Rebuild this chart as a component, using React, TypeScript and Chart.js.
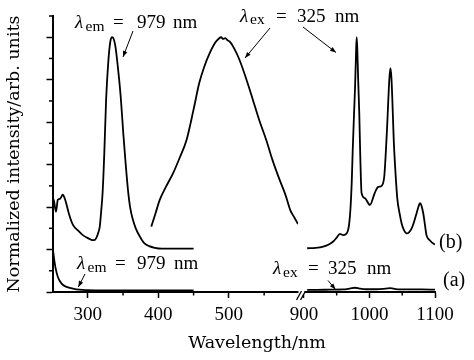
import React, { useEffect, useRef } from 'react';
import { Chart, registerables } from 'chart.js';

Chart.register(...registerables);

// (b) excitation spectrum, lambda_em = 979 nm (offset +1)
const bExcWl = [250, 252, 255, 257.5, 261, 264.6, 267, 269.4, 274, 279, 286, 293, 299, 305, 309, 312, 315, 317, 319, 321, 323.5, 326, 329, 332, 334.5, 336.5, 339, 342, 344.5, 347, 350.5, 354, 357, 360, 364, 368, 374, 380, 387, 395, 405, 420, 450];
const bExcVal = [2.21, 2.15, 1.89, 2.17, 2.2, 2.29, 2.22, 2.09, 1.8, 1.58, 1.45, 1.34, 1.28, 1.23, 1.22, 1.27, 1.4, 1.54, 1.9, 2.33, 3.3, 4.53, 5.4, 5.9, 6.0, 5.97, 5.8, 5.4, 5.0, 4.53, 3.7, 2.96, 2.4, 2.0, 1.7, 1.5, 1.3, 1.15, 1.08, 1.04, 1.02, 1.02, 1.02];

// (b) visible emission, lambda_ex = 325 nm
const bVisWl = [390, 396, 402, 410, 421, 430, 440, 450, 458, 465, 473, 481, 486, 489, 492, 495, 498, 501, 508, 515, 525, 534, 543, 553, 562, 572, 580, 587, 593, 598];
const bVisVal = [1.54, 1.85, 2.17, 2.45, 2.8, 3.15, 3.58, 4.3, 4.92, 5.3, 5.63, 5.88, 5.97, 6.0, 5.96, 5.98, 5.93, 5.9, 5.72, 5.47, 5.0, 4.53, 4.05, 3.58, 3.1, 2.64, 2.3, 1.93, 1.75, 1.6];

// (b) NIR emission, lambda_ex = 325 nm
const bNirWl = [905, 918, 929.5, 938, 944.7, 950, 955, 960, 966, 969, 971, 973, 974.5, 976.5, 978, 979.5, 980.5, 981.5, 983, 984.5, 986, 988, 993, 1000.8, 1008, 1013, 1018.6, 1022.6, 1025, 1027, 1029, 1030.5, 1032, 1033.5, 1035, 1037, 1039, 1042.5, 1046, 1049, 1052, 1056.8, 1060, 1064.4, 1068, 1072, 1075, 1077, 1079, 1082, 1084.5, 1087, 1092, 1098.5, 1100];
const bNirVal = [1.03, 1.04, 1.07, 1.12, 1.19, 1.28, 1.37, 1.34, 1.4, 1.6, 1.95, 2.6, 3.35, 4.2, 4.8, 5.6, 6.0, 5.7, 4.9, 4.2, 3.2, 2.33, 2.21, 2.05, 2.33, 2.47, 2.5, 2.72, 3.3, 3.9, 4.6, 5.05, 5.27, 5.05, 4.5, 3.6, 3.0, 2.2, 1.85, 1.62, 1.48, 1.38, 1.4, 1.5, 1.65, 1.86, 2.02, 2.09, 2.05, 1.86, 1.6, 1.34, 1.22, 1.13, 1.12];

// (a) excitation
const aExcWl = [250, 251, 252.5, 254.5, 257.5, 261, 264.6, 270, 279, 288, 300, 320, 360, 400, 450];
const aExcVal = [1.1, 0.95, 0.75, 0.55, 0.36, 0.24, 0.17, 0.12, 0.08, 0.055, 0.045, 0.04, 0.04, 0.04, 0.04];

// (a) NIR emission
const aNirWl = [905, 920, 940, 960, 970, 978, 985, 995, 1010, 1025, 1032, 1040, 1060, 1080, 1100];
const aNirVal = [0.05, 0.05, 0.055, 0.06, 0.08, 0.1, 0.08, 0.065, 0.065, 0.08, 0.09, 0.07, 0.06, 0.06, 0.055];

const leftRange = [250, 598];
const rightRange = [891, 1100];
const leftMajorTicks = [300, 400, 500];
const leftMinorTicks = [350, 450, 550];
const rightMajorTicks = [900, 1000, 1100];
const rightMinorTicks = [950, 1050];
const yMajorTicks = [0, 1, 2, 3, 4, 5, 6];
const yMinorTicks = [0.5, 1.5, 2.5, 3.5, 4.5, 5.5, 6.5];
const yRange = [0, 6.5];

const emText = '979';
const exText = '325';
const xTitle = 'Wavelength/nm';
const yTitle = 'Normalized intensity/arb. units';

const SERIF = '"Liberation Serif", serif';
const TITLE_SERIF = '"DejaVu Serif", serif';

function pts(xs: number[], ys: number[]) {
  return xs.map((x, i) => ({ x, y: ys[i] }));
}

function arrow(ctx: CanvasRenderingContext2D, x1: number, y1: number, x2: number, y2: number) {
  ctx.beginPath();
  ctx.moveTo(x1, y1);
  ctx.lineTo(x2, y2);
  ctx.stroke();
  const a = Math.atan2(y2 - y1, x2 - x1);
  const L = 6, W = 2.3;
  ctx.beginPath();
  ctx.moveTo(x2, y2);
  ctx.lineTo(x2 - L * Math.cos(a) + W * Math.sin(a), y2 - L * Math.sin(a) - W * Math.cos(a));
  ctx.lineTo(x2 - L * Math.cos(a) - W * Math.sin(a), y2 - L * Math.sin(a) + W * Math.cos(a));
  ctx.closePath();
  ctx.fill();
}

function lambdaLabel(ctx: CanvasRenderingContext2D, x: number, base: number, sub: string, value: string, offs: number[]) {
  ctx.textAlign = 'left';
  ctx.textBaseline = 'alphabetic';
  ctx.font = `italic 19px ${SERIF}`;
  ctx.fillText('λ', x, base);
  ctx.font = `15.5px ${SERIF}`;
  ctx.fillText(sub, x + offs[0], base + 2.5);
  ctx.font = `19px ${SERIF}`;
  ctx.fillText('=', x + offs[1], base);
  ctx.fillText(value, x + offs[2], base);
  ctx.fillText('nm', x + offs[3], base);
}

const decorPlugin = {
  id: 'decor',
  afterDraw(chart: any) {
    const ctx: CanvasRenderingContext2D = chart.ctx;
    const xl = chart.scales.xL;
    const xr = chart.scales.xR;
    const ys = chart.scales.y;
    const { left, bottom } = chart.chartArea;
    ctx.save();
    ctx.strokeStyle = '#000';
    ctx.fillStyle = '#000';
    ctx.lineWidth = 1.5;
    const seg = (x1: number, y1: number, x2: number, y2: number) => {
      ctx.beginPath();
      ctx.moveTo(x1, y1);
      ctx.lineTo(x2, y2);
      ctx.stroke();
    };
    // minor ticks
    leftMinorTicks.forEach((v) => {
      const px = xl.getPixelForValue(v);
      seg(px, bottom, px, bottom + 3.5);
    });
    rightMinorTicks.forEach((v) => {
      const px = xr.getPixelForValue(v);
      seg(px, bottom, px, bottom + 3.5);
    });
    yMinorTicks.forEach((v) => {
      const py = ys.getPixelForValue(v);
      seg(left - 3.5, py, left, py);
    });

    // axis break
    const bx = xl.right;
    ctx.fillStyle = '#fff';
    ctx.fillRect(bx + 0.5, bottom - 2, 6, 4.5);
    ctx.fillStyle = '#000';
    ctx.lineWidth = 1.3;
    seg(bx - 1.5, bottom + 8, bx + 3.5, bottom - 1);
    seg(bx + 2.5, bottom + 8, bx + 7.5, bottom - 1);

    // annotations
    ctx.lineWidth = 1;
    lambdaLabel(ctx, 75, 28.3, 'em', emText, [10.5, 38, 62, 98]);
    arrow(ctx, 133, 31, 123, 57);
    lambdaLabel(ctx, 240, 21.7, 'ex', exText, [10, 36, 57, 95]);
    arrow(ctx, 270, 28, 245, 58);
    arrow(ctx, 303, 27, 336, 52.5);
    lambdaLabel(ctx, 77, 269.3, 'em', emText, [10.5, 38, 60, 97]);
    arrow(ctx, 85, 274, 78.3, 287);
    lambdaLabel(ctx, 273, 274, 'ex', exText, [10, 35, 55, 94]);
    arrow(ctx, 328, 280.5, 335.5, 289.5);

    ctx.font = `20px ${SERIF}`;
    ctx.textAlign = 'left';
    ctx.fillText('(b)', 439, 248);
    ctx.fillText('(a)', 443, 286);

    // x title
    ctx.font = `17.5px ${TITLE_SERIF}`;
    ctx.textAlign = 'center';
    ctx.textBaseline = 'middle';
    ctx.fillText(xTitle, 257, 343);
    ctx.restore();
  },
};

export default function App() {
  const ref = useRef<HTMLCanvasElement>(null);
  useEffect(() => {
    if (!ref.current) return;
    const line = (xs: number[], ys: number[], axis: string) => ({
      data: pts(xs, ys),
      xAxisID: axis,
      yAxisID: 'y',
      borderColor: '#000',
      borderWidth: 1.8,
      pointRadius: 0,
      cubicInterpolationMode: 'monotone' as const,
      fill: false,
    });
    const xTicks = {
      color: '#000',
      font: { family: SERIF, size: 19 },
      padding: 5.5,
      autoSkip: false,
      maxRotation: 0,
      callback: (v: any) => String(v),
    };
    const xGrid = { display: true, drawOnChartArea: false, drawTicks: true, tickLength: 6, tickWidth: 1.5, tickColor: '#000' };
    const xBorder = { display: true, color: '#000', width: 2 };
    const chart = new Chart(ref.current, {
      type: 'line',
      data: {
        datasets: [
          line(bExcWl, bExcVal, 'xL'),
          line(bVisWl, bVisVal, 'xL'),
          line(bNirWl, bNirVal, 'xR'),
          line(aExcWl, aExcVal, 'xL'),
          line(aNirWl, aNirVal, 'xR'),
        ] as any,
      },
      options: {
        animation: false,
        responsive: false,
        layout: { padding: { left: 0, right: 39, top: 16, bottom: 0 } },
        plugins: { legend: { display: false }, tooltip: { enabled: false } },
        scales: {
          xL: {
            type: 'linear',
            position: 'bottom',
            stack: 'x',
            stackWeight: 245.5,
            min: leftRange[0],
            max: leftRange[1],
            afterBuildTicks: (s: any) => { s.ticks = leftMajorTicks.map((v) => ({ value: v })); },
            afterFit: (s: any) => { s.height = 68; },
            ticks: xTicks,
            grid: xGrid,
            border: xBorder,
          },
          xR: {
            type: 'linear',
            position: 'bottom',
            stack: 'x',
            stackWeight: 137,
            min: rightRange[0],
            max: rightRange[1],
            afterBuildTicks: (s: any) => { s.ticks = rightMajorTicks.map((v) => ({ value: v })); },
            afterFit: (s: any) => { s.height = 68; },
            ticks: xTicks,
            grid: xGrid,
            border: xBorder,
          },
          y: {
            type: 'linear',
            position: 'left',
            min: yRange[0],
            max: yRange[1],
            afterBuildTicks: (s: any) => { s.ticks = yMajorTicks.map((v) => ({ value: v })); },
            afterFit: (s: any) => { s.width = 52.5; },
            ticks: { display: false },
            grid: { display: true, drawOnChartArea: false, drawTicks: true, tickLength: 6, tickWidth: 1.5, tickColor: '#000' },
            border: { display: true, color: '#000', width: 2 },
            title: {
              display: true,
              text: yTitle,
              color: '#000',
              font: { family: TITLE_SERIF, size: 17.5 },
              padding: { top: 4, bottom: 0 },
            },
          },
        } as any,
      },
      plugins: [decorPlugin],
    });
    return () => chart.destroy();
  }, []);
  return (
    <canvas
      ref={ref}
      width={474}
      height={360}
      style={{ position: 'absolute', left: 0, top: 0, width: 474, height: 360, display: 'block', background: '#fff' }}
    />
  );
}
